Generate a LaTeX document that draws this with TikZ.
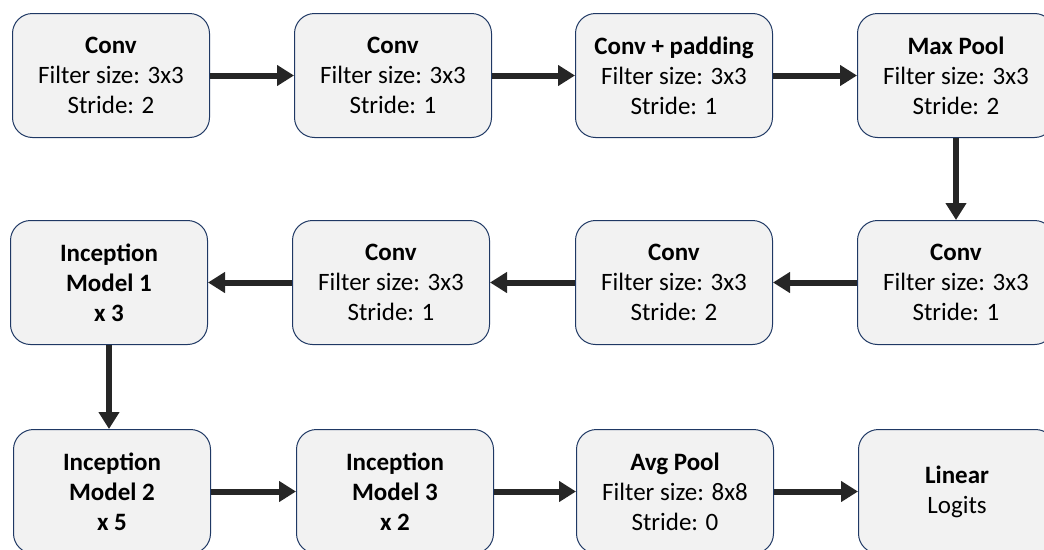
\documentclass[tikz,border=0pt]{standalone}
\usepackage{fontspec}
\setmainfont{Carlito}
\usetikzlibrary{math,arrows.meta}

\definecolor{boxfill}{HTML}{F2F2F2}
\definecolor{boxline}{HTML}{1F3864}
\definecolor{arrowgray}{HTML}{262626}

\begin{document}
\begin{tikzpicture}[x=1pt, y=1pt,
  layer/.style={draw=boxline, line width=1pt, fill=boxfill, rounded corners=20pt,
    minimum width=197pt, minimum height=124pt, align=center, inner sep=0pt,
    font=\fontsize{25}{30}\selectfont},
  flow/.style={draw=arrowgray, line width=6pt, -{Triangle[length=17pt, width=20pt]}}]
  \tikzmath{%
    \ca = 111; \cb = 393; \cc = 674; \cd = 956;
    \ra = -75.5; \rb = -282.5; \rc = -491.5;
  }
  \useasboundingbox (0,0) rectangle (1044,-549);

  \node[layer] (conv1) at (\ca,\ra) {\textbf{Conv}\\Filter size: 3x3\\Stride: 2};
  \node[layer] (conv2) at (\cb,\ra) {\textbf{Conv}\\Filter size: 3x3\\Stride: 1};
  \node[layer] (convpad) at (\cc,\ra) {\textbf{Conv + padding}\\Filter size: 3x3\\Stride: 1};
  \node[layer] (maxpool) at (\cd,\ra) {\textbf{Max Pool}\\Filter size: 3x3\\Stride: 2};

  \node[layer] (conv3) at (\cd,\rb) {\textbf{Conv}\\Filter size: 3x3\\Stride: 1};
  \node[layer] (conv4) at (\cc,\rb) {\textbf{Conv}\\Filter size: 3x3\\Stride: 2};
  \node[layer] (conv5) at (\cb-2,\rb) {\textbf{Conv}\\Filter size: 3x3\\Stride: 1};
  \node[layer] (incep1) at (\ca-2,\rb) {\textbf{Inception}\\\textbf{Model 1}\\\textbf{x 3}};

  \node[layer] (incep2) at (\ca+1,\rc) {\textbf{Inception}\\\textbf{Model 2}\\\textbf{x 5}};
  \node[layer] (incep3) at (\cb+2,\rc) {\textbf{Inception}\\\textbf{Model 3}\\\textbf{x 2}};
  \node[layer] (avgpool) at (\cc+1,\rc) {\textbf{Avg Pool}\\Filter size: 8x8\\Stride: 0};
  \node[layer] (linear) at (\cd+1,\rc) {\textbf{Linear}\\Logits};

  \draw[flow] (conv1) -- (conv2);
  \draw[flow] (conv2) -- (convpad);
  \draw[flow] (convpad) -- (maxpool);
  \draw[flow] (maxpool) -- (conv3);
  \draw[flow] (conv3) -- (conv4);
  \draw[flow] (conv4) -- (conv5);
  \draw[flow] (conv5) -- (incep1);
  \draw[flow] (incep1) -- (incep1 |- incep2.north);
  \draw[flow] (incep2) -- (incep3);
  \draw[flow] (incep3) -- (avgpool);
  \draw[flow] (avgpool) -- (linear);
\end{tikzpicture}
\end{document}
